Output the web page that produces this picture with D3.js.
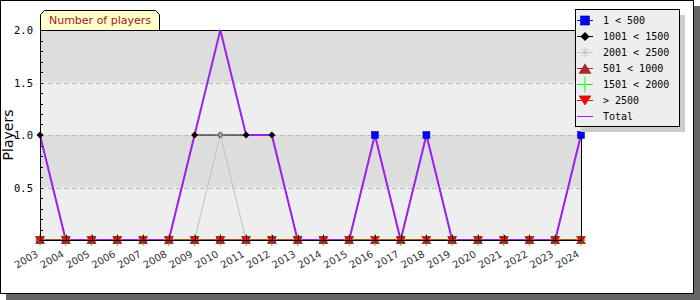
<!DOCTYPE html>
<html><head><meta charset="utf-8">
<script src="https://cdn.jsdelivr.net/npm/d3@7"></script>
<style>body{margin:0;background:#fff}svg{display:block}</style>
</head><body>
<script>
const years = ["2003","2004","2005","2006","2007","2008","2009","2010","2011","2012","2013","2014","2015","2016","2017","2018","2019","2020","2021","2022","2023","2024"];
const s1to500     = [0,0,0,0,0,0,0,0,0,0,0,0,0,1,0,1,0,0,0,0,0,1];
const s1001to1500 = [1,0,0,0,0,0,1,1,1,1,0,0,0,0,0,0,0,0,0,0,0,0];
const s2001to2500 = [0,0,0,0,0,0,0,1,0,0,0,0,0,0,0,0,0,0,0,0,0,0];
const s501to1000  = [0,0,0,0,0,0,0,0,0,0,0,0,0,0,0,0,0,0,0,0,0,0];
const s1501to2000 = [0,0,0,0,0,0,0,0,0,0,0,0,0,0,0,0,0,0,0,0,0,0];
const sOver2500   = [0,0,0,0,0,0,0,0,0,0,0,0,0,0,0,0,0,0,0,0,0,0];
const total       = [1,0,0,0,0,0,1,2,1,1,0,0,0,1,0,1,0,0,0,0,0,1];
const seriesNames = ["1 < 500","1001 < 1500","2001 < 2500","501 < 1000","1501 < 2000","> 2500","Total"];
const yTicks = [0.5,1.0,1.5,2.0];
const title = "Number of players";
const yTitle = "Players";

const series = [
  {name:seriesNames[0], values:s1to500, color:"#0000ff", marker:"square"},
  {name:seriesNames[1], values:s1001to1500, color:"#000000", marker:"diamond"},
  {name:seriesNames[2], values:s2001to2500, color:"#c0c0c0", marker:"asterisk"},
  {name:seriesNames[3], values:s501to1000, color:"#a52a2a", marker:"triup"},
  {name:seriesNames[4], values:s1501to2000, color:"#00ff00", marker:"plus"},
  {name:seriesNames[5], values:sOver2500, color:"#ff0000", marker:"tridown"},
];

const W=700,H=300;
const svg=d3.select("body").append("svg").attr("width",W).attr("height",H);
svg.append("rect").attr("x",6).attr("y",6).attr("width",694).attr("height",294).attr("fill","#666");
svg.append("rect").attr("x",0.5).attr("y",0.5).attr("width",693).attr("height",293).attr("fill","#fff").attr("stroke","#000");

const L=40,R=581,T=30,B=240;
const x=d3.scalePoint().domain(years).range([L,R]);
const y=d3.scaleLinear().domain([0,2]).range([B,T]);

const bands=[[0,0.5,"#eeeeee"],[0.5,1,"#dddddd"],[1,1.5,"#eeeeee"],[1.5,2,"#dddddd"]];
svg.selectAll("rect.band").data(bands).enter().append("rect")
  .attr("x",L).attr("width",R-L).attr("y",d=>y(d[1])).attr("height",d=>y(d[0])-y(d[1])).attr("fill",d=>d[2]);
svg.selectAll("line.grid").data([0.5,1,1.5]).enter().append("line")
  .attr("x1",L).attr("x2",R).attr("y1",d=>Math.round(y(d))+0.5).attr("y2",d=>Math.round(y(d))+0.5)
  .attr("stroke","#bbb").attr("stroke-dasharray","5,3");

svg.append("line").attr("x1",L).attr("x2",R+0.5).attr("y1",T+0.5).attr("y2",T+0.5).attr("stroke","#000");
svg.append("line").attr("x1",R+0.5).attr("x2",R+0.5).attr("y1",T).attr("y2",B).attr("stroke","#000");

const tg=svg.append("g");
const tx0=40,tx1=160,ty0=10,ty1=30;
tg.append("path").attr("d",`M${tx0+0.5},${ty1} L${tx0+0.5},${ty0+4.5} L${tx0+4.5},${ty0+0.5} L${tx1-4.5},${ty0+0.5} L${tx1-0.5},${ty0+4.5} L${tx1-0.5},${ty1}`)
  .attr("fill","#ffffcc").attr("stroke","#000");
tg.append("text").attr("x",(tx0+tx1)/2).attr("y",24).attr("text-anchor","middle")
  .attr("font-family","DejaVu Sans").attr("font-size",11).attr("fill","#a01818").text(title);

const line=d3.line().x((d,i)=>x(years[i])).y(d=>y(d));
series.forEach(s=>{
  svg.append("path").attr("d",line(s.values)).attr("fill","none").attr("stroke",s.color).attr("stroke-width",1);
});
svg.append("path").attr("d",line(total)).attr("fill","none").attr("stroke","#a020f0").attr("stroke-width",2);

function drawMarker(g,type,cx,cy,color,k){
  k=k||1;
  if(type==="square"){const h=3.5*k;g.append("rect").attr("x",cx-h).attr("y",cy-h).attr("width",2*h).attr("height",2*h).attr("fill",color).attr("stroke","#00008b").attr("stroke-width",0.5);}
  else if(type==="diamond"){const h=3.5*k;g.append("path").attr("d",`M${cx-h},${cy} L${cx},${cy-h} L${cx+h},${cy} L${cx},${cy+h}Z`).attr("fill",color);}
  else if(type==="asterisk"){
    const a=4*k,b=3*k;
    g.append("path").attr("d",`M${cx-a},${cy} L${cx+a},${cy} M${cx},${cy-a} L${cx},${cy+a} M${cx-b},${cy-b} L${cx+b},${cy+b} M${cx-b},${cy+b} L${cx+b},${cy-b}`).attr("stroke",color).attr("stroke-width",1).attr("fill","none");
  }
  else if(type==="triup"){g.append("path").attr("d",`M${cx-5*k},${cy+4*k} L${cx},${cy-4*k} L${cx+5*k},${cy+4*k}Z`).attr("fill",color);}
  else if(type==="plus"){g.append("path").attr("d",`M${cx-5*k},${cy} L${cx+5*k},${cy} M${cx},${cy-6*k} L${cx},${cy+6*k}`).attr("stroke",color).attr("stroke-width",1);}
  else if(type==="tridown"){g.append("path").attr("d",`M${cx-4.5*k},${cy-3.5*k} L${cx+4.5*k},${cy-3.5*k} L${cx},${cy+3.5*k}Z`).attr("fill",color).attr("stroke","#a52a2a").attr("stroke-width",0.8);}
}
const mg=svg.append("g");
series.forEach(s=>{
  s.values.forEach((v,i)=>drawMarker(mg,s.marker,x(years[i]),y(v),s.color));
});

const yAxis=svg.append("g");
yAxis.append("line").attr("x1",L+0.5).attr("x2",L+0.5).attr("y1",T).attr("y2",B).attr("stroke","#000");
d3.range(1,20).forEach(k=>{
  const v=k/10;
  yAxis.append("line").attr("x1",L).attr("x2",L+3).attr("y1",Math.round(y(v))+0.5).attr("y2",Math.round(y(v))+0.5).attr("stroke","#000");
});
yAxis.selectAll("text").data(yTicks).enter().append("text")
  .attr("x",L-7).attr("y",d=>y(d)+4).attr("text-anchor","end")
  .attr("font-family","DejaVu Sans Mono").attr("font-size",10.5).attr("fill","#000").text(d=>d.toFixed(1));
svg.append("text").attr("transform",`translate(13,${(T+B)/2}) rotate(-90)`).attr("text-anchor","middle")
  .attr("font-family","DejaVu Sans").attr("font-size",14).attr("fill","#000").text(yTitle);

const xAxis=svg.append("g");
xAxis.append("line").attr("x1",L).attr("x2",R+1).attr("y1",B+0.5).attr("y2",B+0.5).attr("stroke","#000");
years.forEach(yr=>{
  const px=Math.round(x(yr))+0.5;
  xAxis.append("line").attr("x1",px).attr("x2",px).attr("y1",B-5).attr("y2",B).attr("stroke","#000");
  xAxis.append("text").attr("transform",`translate(${x(yr)-1},${B+16}) rotate(-30)`).attr("text-anchor","end")
    .attr("font-family","DejaVu Sans").attr("font-size",10).attr("fill","#333").text(yr);
});

const lx=575,ly=9,lw=104,lh=117;
svg.append("rect").attr("x",lx+6).attr("y",ly+6).attr("width",lw).attr("height",lh).attr("fill","#ccc");
svg.append("rect").attr("x",lx+0.5).attr("y",ly+0.5).attr("width",lw).attr("height",lh).attr("fill","#eeeeee").attr("stroke","#000");
const legItems=series.concat([{name:seriesNames[6],color:"#a020f0",marker:null}]);
legItems.forEach((s,i)=>{
  const cy=ly+10.5+i*16.1;
  const g=svg.append("g");
  g.append("line").attr("x1",lx+2).attr("x2",lx+18).attr("y1",Math.round(cy)+0.5).attr("y2",Math.round(cy)+0.5).attr("stroke",s.color).attr("stroke-width",1);
  if(s.marker) drawMarker(g,s.marker,lx+10,Math.round(cy)+0.5,s.color,1.3);
  g.append("text").attr("x",lx+28).attr("y",cy+4).attr("font-family","DejaVu Sans Mono").attr("font-size",10).attr("fill","#000").text(s.name);
});
</script>
</body></html>
